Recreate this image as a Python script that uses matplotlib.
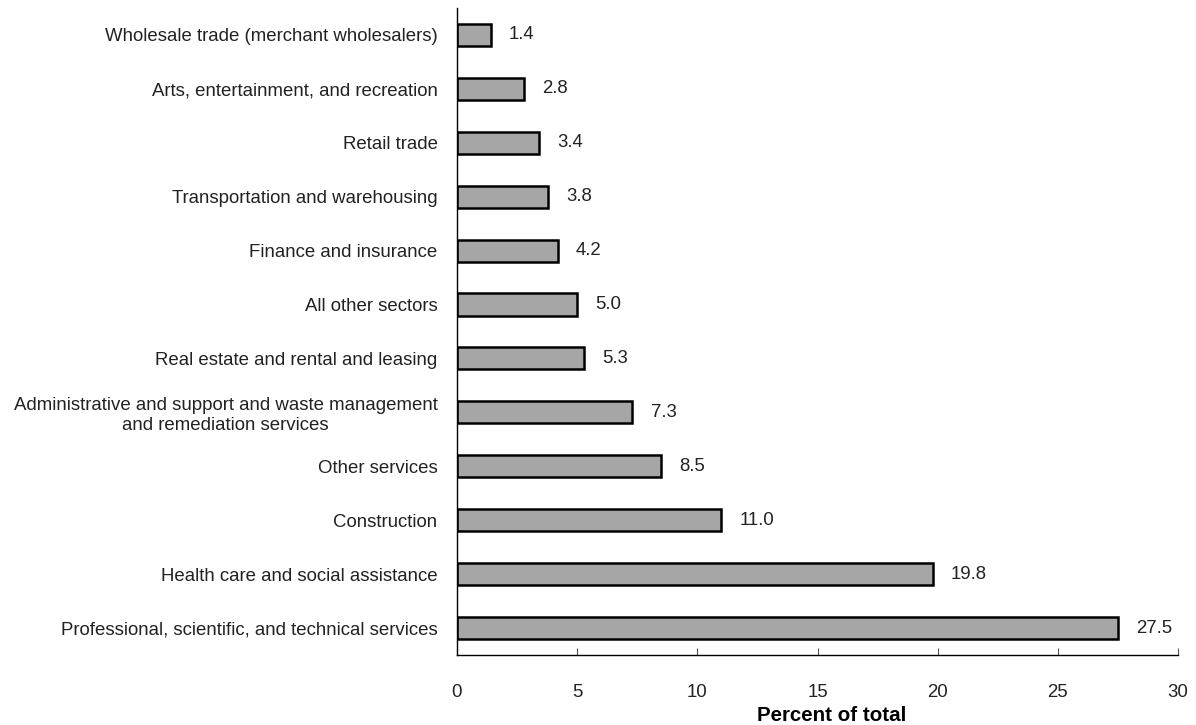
import numpy as np
import matplotlib.pyplot as plt

plt.rcParams['font.family'] = ['Liberation Sans', 'DejaVu Sans']

# sectors listed bottom to top
sectors = [
    "Professional, scientific, and technical services",
    "Health care and social assistance",
    "Construction",
    "Other services",
    "Administrative and support and waste management\nand remediation services",
    "Real estate and rental and leasing",
    "All other sectors",
    "Finance and insurance",
    "Transportation and warehousing",
    "Retail trade",
    "Arts, entertainment, and recreation",
    "Wholesale trade (merchant wholesalers)",
]
percent = [27.5, 19.8, 11.0, 8.5, 7.3, 5.3, 5.0, 4.2, 3.8, 3.4, 2.8, 1.4]
xticks = [0, 5, 10, 15, 20, 25, 30]

fs = 13.4

fig = plt.figure(figsize=(11.96, 7.25), dpi=100)
ax = fig.add_axes([0.3821, 0.0966, 0.6029, 0.8924])

y = np.arange(len(sectors))
ax.barh(y, percent, height=0.41, color='#a6a6a6', edgecolor='black', linewidth=1.8)

for yi, v in zip(y, percent):
    ax.annotate(f"{v:.1f}", (v, yi), xytext=(13, 0), textcoords='offset points',
                va='center', ha='left', fontsize=fs, color='#222222')

ax.set_ylim(-0.5, len(sectors) - 0.5)
ax.set_xlim(0, 30)
ax.set_yticks(y)
ax.set_yticklabels(sectors, fontsize=fs, color='#222222')
ax.tick_params(axis='y', length=0, pad=14)
ax.set_xticks(xticks)
ax.set_xticklabels([str(t) for t in xticks], fontsize=fs, color='#222222')
ax.tick_params(axis='x', direction='in', length=5, width=0.8, color='#555555', pad=21)
for ln in ax.get_yticklabels():
    ln.set_multialignment('center')

ax.spines['top'].set_visible(False)
ax.spines['right'].set_visible(False)
ax.spines['left'].set_linewidth(1.0)
ax.spines['bottom'].set_linewidth(1.0)

ax.set_xlabel("Percent of total", fontsize=14.8, fontweight='bold', labelpad=3.5)
ax.xaxis.label.set_x(0.52)

fig.savefig('out.png', dpi=100)
